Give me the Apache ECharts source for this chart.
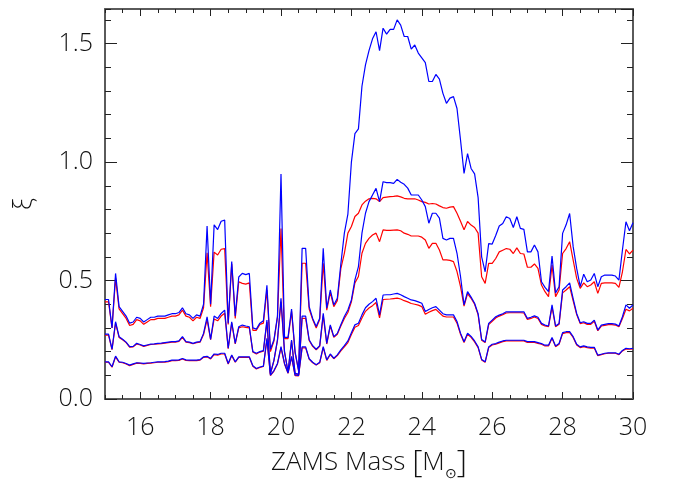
<!DOCTYPE html>
<html>
<head>
<meta charset="utf-8">
<title>xi vs ZAMS mass</title>
<script src="https://cdn.jsdelivr.net/npm/echarts@6/dist/echarts.min.js"></script>
<style>
  html, body { margin: 0; padding: 0; background: #fff; }
  #chart { width: 678px; height: 481px; }
</style>
</head>
<body>
<div id="chart"></div>
<script>
// ZAMS masses 15.0 ... 30.0 in steps of 0.1
const mass = Array.from({ length: 151 }, (_, i) => Math.round(150 + i) / 10);

// upper pair
const blue1 = [
  0.42, 0.42, 0.30, 0.53, 0.39, 0.37, 0.35, 0.32, 0.325, 0.345,
  0.34, 0.325, 0.335, 0.345, 0.345, 0.35, 0.35, 0.35, 0.355, 0.36,
  0.36, 0.365, 0.385, 0.36, 0.355, 0.34, 0.355, 0.35, 0.40, 0.73,
  0.40, 0.735, 0.715, 0.75, 0.755, 0.32, 0.58, 0.35, 0.515, 0.53,
  0.525, 0.53, 0.30, 0.295, 0.32, 0.33, 0.48, 0.21, 0.25, 0.35,
  0.95, 0.26, 0.26, 0.38, 0.20, 0.12, 0.636, 0.636, 0.39, 0.34,
  0.306, 0.341, 0.636, 0.383, 0.46, 0.397, 0.425, 0.57, 0.70, 0.78,
  1.0, 1.12, 1.14, 1.32, 1.41, 1.47, 1.52, 1.55, 1.47, 1.565,
  1.54, 1.56, 1.56, 1.60, 1.578, 1.53, 1.53, 1.477, 1.494, 1.46,
  1.44, 1.42, 1.34, 1.34, 1.37, 1.35, 1.29, 1.248, 1.27, 1.276,
  1.226, 1.093, 0.952, 1.036, 0.973, 0.95, 0.85, 0.60, 0.537, 0.656,
  0.654, 0.69, 0.73, 0.741, 0.769, 0.762, 0.724, 0.769, 0.72, 0.716,
  0.621, 0.621, 0.65, 0.621, 0.495, 0.471, 0.453, 0.603, 0.448, 0.474,
  0.699, 0.735, 0.783, 0.643, 0.551, 0.474, 0.527, 0.495, 0.502, 0.530,
  0.474, 0.516, 0.523, 0.523, 0.523, 0.519, 0.502, 0.629, 0.748, 0.71,
  0.744
];
const red1 = [
  0.41, 0.41, 0.30, 0.51, 0.38, 0.36, 0.34, 0.31, 0.315, 0.335,
  0.33, 0.315, 0.325, 0.335, 0.335, 0.34, 0.34, 0.34, 0.345, 0.35,
  0.35, 0.355, 0.375, 0.35, 0.345, 0.33, 0.345, 0.34, 0.385, 0.617,
  0.39, 0.62, 0.608, 0.632, 0.635, 0.315, 0.57, 0.34, 0.495, 0.488,
  0.485, 0.49, 0.29, 0.29, 0.315, 0.32, 0.46, 0.20, 0.245, 0.345,
  0.72, 0.255, 0.255, 0.37, 0.195, 0.12, 0.573, 0.573, 0.38, 0.335,
  0.30, 0.335, 0.573, 0.375, 0.45, 0.39, 0.415, 0.55, 0.615, 0.70,
  0.728, 0.77, 0.784, 0.819, 0.835, 0.845, 0.847, 0.845, 0.833, 0.85,
  0.852, 0.854, 0.855, 0.857, 0.853, 0.847, 0.845, 0.845, 0.845, 0.84,
  0.833, 0.83, 0.823, 0.825, 0.823, 0.815, 0.808, 0.805, 0.81, 0.812,
  0.784, 0.75, 0.714, 0.749, 0.734, 0.724, 0.70, 0.516, 0.488, 0.572,
  0.572, 0.593, 0.621, 0.628, 0.635, 0.632, 0.614, 0.638, 0.614, 0.612,
  0.556, 0.556, 0.57, 0.551, 0.481, 0.453, 0.432, 0.565, 0.432, 0.46,
  0.614, 0.635, 0.664, 0.586, 0.509, 0.467, 0.49, 0.474, 0.481, 0.495,
  0.446, 0.488, 0.49, 0.49, 0.49, 0.488, 0.471, 0.537, 0.631, 0.612,
  0.628
];

// middle pair
const blue2 = [
  0.274, 0.274, 0.21, 0.326, 0.263, 0.252, 0.24, 0.221, 0.222, 0.235,
  0.23, 0.224, 0.228, 0.232, 0.233, 0.235, 0.236, 0.238, 0.24, 0.242,
  0.242, 0.245, 0.263, 0.242, 0.24, 0.235, 0.24, 0.242, 0.277, 0.347,
  0.252, 0.35, 0.34, 0.361, 0.375, 0.214, 0.326, 0.235, 0.305, 0.312,
  0.308, 0.305, 0.20, 0.193, 0.20, 0.204, 0.333, 0.108, 0.164, 0.25,
  0.425, 0.20, 0.115, 0.249, 0.108, 0.105, 0.35, 0.35, 0.25, 0.225,
  0.21, 0.225, 0.362, 0.235, 0.313, 0.263, 0.277, 0.313, 0.348, 0.376,
  0.418, 0.503, 0.559, 0.70, 0.784, 0.833, 0.861, 0.889, 0.833, 0.917,
  0.913, 0.913, 0.91, 0.927, 0.915, 0.906, 0.89, 0.861, 0.861, 0.861,
  0.84, 0.812, 0.742, 0.784, 0.784, 0.763, 0.678, 0.671, 0.678, 0.678,
  0.615, 0.517, 0.397, 0.453, 0.43, 0.404, 0.36, 0.251, 0.241, 0.319,
  0.333, 0.347, 0.354, 0.36, 0.368, 0.368, 0.368, 0.368, 0.368, 0.368,
  0.34, 0.345, 0.351, 0.345, 0.319, 0.312, 0.308, 0.397, 0.308, 0.319,
  0.46, 0.474, 0.49, 0.424, 0.361, 0.322, 0.326, 0.319, 0.319, 0.333,
  0.291, 0.312, 0.315, 0.318, 0.318, 0.316, 0.308, 0.347, 0.397, 0.383,
  0.397
];
const red2 = [
  0.27, 0.27, 0.208, 0.32, 0.26, 0.25, 0.238, 0.219, 0.22, 0.232,
  0.228, 0.222, 0.226, 0.23, 0.231, 0.233, 0.234, 0.236, 0.238, 0.24,
  0.24, 0.243, 0.26, 0.24, 0.238, 0.233, 0.238, 0.24, 0.272, 0.335,
  0.25, 0.338, 0.33, 0.35, 0.362, 0.212, 0.32, 0.233, 0.30, 0.305,
  0.302, 0.30, 0.198, 0.19, 0.198, 0.202, 0.325, 0.106, 0.162, 0.247,
  0.41, 0.198, 0.113, 0.245, 0.106, 0.103, 0.34, 0.34, 0.247, 0.222,
  0.208, 0.222, 0.352, 0.232, 0.308, 0.26, 0.273, 0.308, 0.34, 0.365,
  0.41, 0.49, 0.517, 0.615, 0.657, 0.678, 0.692, 0.70, 0.664, 0.714,
  0.712, 0.712, 0.713, 0.714, 0.71, 0.70, 0.695, 0.688, 0.688, 0.688,
  0.683, 0.671, 0.636, 0.657, 0.657, 0.629, 0.587, 0.587, 0.585, 0.58,
  0.538, 0.474, 0.392, 0.445, 0.425, 0.40, 0.355, 0.248, 0.238, 0.314,
  0.328, 0.342, 0.35, 0.356, 0.363, 0.364, 0.364, 0.364, 0.364, 0.363,
  0.336, 0.34, 0.346, 0.34, 0.315, 0.308, 0.305, 0.388, 0.305, 0.315,
  0.448, 0.46, 0.474, 0.414, 0.356, 0.318, 0.322, 0.315, 0.315, 0.328,
  0.288, 0.308, 0.311, 0.314, 0.314, 0.312, 0.305, 0.34, 0.379, 0.372,
  0.383
];

// lower pair
const blue3 = [
  0.157, 0.157, 0.136, 0.181, 0.157, 0.155, 0.15, 0.143, 0.148, 0.153,
  0.152, 0.15, 0.152, 0.153, 0.155, 0.157, 0.157, 0.158, 0.16, 0.164,
  0.164, 0.165, 0.171, 0.165, 0.164, 0.164, 0.164, 0.166, 0.178, 0.18,
  0.171, 0.19, 0.188, 0.193, 0.193, 0.15, 0.186, 0.157, 0.178, 0.178,
  0.178, 0.178, 0.14, 0.129, 0.135, 0.139, 0.256, 0.101, 0.12, 0.15,
  0.221, 0.15, 0.11, 0.18, 0.101, 0.10, 0.22, 0.22, 0.17, 0.155,
  0.145, 0.155, 0.221, 0.165, 0.19, 0.172, 0.186, 0.207, 0.225, 0.245,
  0.28, 0.313, 0.32, 0.355, 0.385, 0.40, 0.411, 0.425, 0.355, 0.439,
  0.44, 0.44, 0.443, 0.446, 0.44, 0.432, 0.425, 0.418, 0.415, 0.41,
  0.404, 0.369, 0.378, 0.385, 0.39, 0.375, 0.36, 0.355, 0.355, 0.355,
  0.327, 0.278, 0.242, 0.278, 0.264, 0.245, 0.22, 0.167, 0.157, 0.22,
  0.231, 0.234, 0.24, 0.245, 0.248, 0.248, 0.248, 0.248, 0.248, 0.248,
  0.242, 0.242, 0.242, 0.238, 0.234, 0.227, 0.227, 0.26, 0.224, 0.234,
  0.28, 0.284, 0.284, 0.263, 0.231, 0.22, 0.224, 0.22, 0.218, 0.218,
  0.185, 0.189, 0.193, 0.195, 0.195, 0.195, 0.189, 0.205, 0.214, 0.212,
  0.214
];
const red3 = [
  0.155, 0.155, 0.134, 0.178, 0.155, 0.153, 0.148, 0.141, 0.146, 0.151,
  0.15, 0.148, 0.15, 0.151, 0.153, 0.155, 0.155, 0.156, 0.158, 0.162,
  0.162, 0.163, 0.169, 0.163, 0.162, 0.162, 0.162, 0.164, 0.176, 0.178,
  0.169, 0.187, 0.185, 0.19, 0.19, 0.148, 0.183, 0.155, 0.176, 0.176,
  0.176, 0.176, 0.138, 0.127, 0.133, 0.137, 0.25, 0.099, 0.118, 0.148,
  0.216, 0.148, 0.108, 0.177, 0.099, 0.098, 0.216, 0.216, 0.168, 0.153,
  0.143, 0.153, 0.217, 0.163, 0.187, 0.17, 0.183, 0.203, 0.22, 0.238,
  0.272, 0.303, 0.31, 0.342, 0.37, 0.384, 0.394, 0.407, 0.342, 0.42,
  0.421, 0.422, 0.424, 0.426, 0.422, 0.415, 0.41, 0.403, 0.40, 0.396,
  0.39, 0.358, 0.366, 0.373, 0.378, 0.364, 0.35, 0.346, 0.346, 0.346,
  0.32, 0.273, 0.238, 0.273, 0.26, 0.241, 0.217, 0.165, 0.155, 0.217,
  0.228, 0.231, 0.237, 0.242, 0.245, 0.245, 0.245, 0.245, 0.245, 0.245,
  0.239, 0.239, 0.239, 0.235, 0.231, 0.224, 0.224, 0.256, 0.221, 0.231,
  0.276, 0.28, 0.28, 0.26, 0.228, 0.217, 0.221, 0.217, 0.215, 0.215,
  0.183, 0.187, 0.191, 0.193, 0.193, 0.193, 0.187, 0.203, 0.211, 0.21,
  0.211
];

const xLabels = [16, 18, 20, 22, 24, 26, 28, 30];
const X_MIN = 15, X_MAX = 30;
const Y_MIN = 0, Y_MAX = 1.646;

// thin sans to look like the IDL plot font
const FONT = "'Open Sans', 'Liberation Sans', sans-serif";
const FONT_WEIGHT = 300;
const textColor = '#111';
const lineColor = '#5a5a5a';
const tickColor = '#222';

const chart = echarts.init(document.getElementById('chart'), null, { renderer: 'canvas' });

// minor x ticks every 0.5, long ticks + labels at even masses
const xMinor = (pos) => ({
  type: 'value', position: pos, min: X_MIN, max: X_MAX, interval: 0.5,
  axisLine: { show: true, onZero: false, lineStyle: { color: lineColor, width: 2 } },
  axisTick: { inside: true, length: 4, lineStyle: { color: tickColor, width: 1 } },
  axisLabel: { show: false }, splitLine: { show: false }
});
const xMajor = (pos, labels) => ({
  type: 'value', position: pos, min: X_MIN, max: X_MAX,
  axisLine: { show: false, onZero: false },
  axisTick: { inside: true, length: 7, customValues: xLabels, lineStyle: { color: tickColor, width: 1 } },
  axisLabel: {
    show: labels, customValues: xLabels, margin: 16,
    fontFamily: FONT, fontWeight: FONT_WEIGHT, fontSize: 25, color: textColor
  },
  splitLine: { show: false }
});
const yMinor = (pos) => ({
  type: 'value', position: pos, min: Y_MIN, max: Y_MAX, interval: 0.1,
  axisLine: { show: true, onZero: false, lineStyle: { color: lineColor, width: 2 } },
  axisTick: { inside: true, length: 6, lineStyle: { color: tickColor, width: 1 } },
  axisLabel: { show: false }, splitLine: { show: false }
});
const yMajor = (pos, labels) => ({
  type: 'value', position: pos, min: Y_MIN, max: Y_MAX, interval: 0.5,
  axisLine: { show: false, onZero: false },
  axisTick: { inside: true, length: 12, lineStyle: { color: tickColor, width: 1 } },
  axisLabel: {
    show: labels, showMaxLabel: false, margin: 12,
    fontFamily: FONT, fontWeight: FONT_WEIGHT, fontSize: 25, color: textColor,
    formatter: (v) => v.toFixed(1)
  },
  splitLine: { show: false }
});

const bottomMajor = xMajor('bottom', true);
bottomMajor.name = 'ZAMS Mass {b|[}M{s|⊙}{b|]}';
bottomMajor.nameLocation = 'middle';
bottomMajor.nameGap = 46;
bottomMajor.nameTextStyle = {
  fontFamily: FONT, fontWeight: FONT_WEIGHT, fontSize: 26, color: textColor,
  rich: {
    b: { fontFamily: FONT, fontWeight: FONT_WEIGHT, fontSize: 32, color: textColor },
    s: { fontFamily: 'DejaVu Sans', fontSize: 14, color: textColor, padding: [22, 0, 0, 0] }
  }
};

const leftMajor = yMajor('left', true);
leftMajor.name = 'ξ';
leftMajor.nameLocation = 'middle';
leftMajor.nameRotate = 90;
leftMajor.nameGap = 67;
leftMajor.nameTextStyle = { fontFamily: FONT, fontWeight: FONT_WEIGHT, fontSize: 26, color: textColor };

const mk = (name, values, color) => ({
  name,
  type: 'line',
  xAxisIndex: 0,
  yAxisIndex: 0,
  data: mass.map((m, i) => [m, values[i]]),
  showSymbol: false,
  symbol: 'none',
  clip: true,
  lineStyle: { color, width: 1.2 },
  emphasis: { disabled: true }
});

chart.setOption({
  animation: false,
  backgroundColor: '#fff',
  // fixed plot box; v6 would otherwise shrink the grid to fit the axis names
  grid: { left: 105, right: 45, top: 9, bottom: 82, containLabel: false, outerBoundsMode: 'none' },
  xAxis: [xMinor('bottom'), bottomMajor, xMinor('top'), xMajor('top', false)],
  yAxis: [yMinor('left'), leftMajor, yMinor('right'), yMajor('right', false)],
  series: [
    mk('red 1', red1, '#ff0000'),
    mk('red 2', red2, '#ff0000'),
    mk('red 3', red3, '#ff0000'),
    mk('blue 1', blue1, '#0000ff'),
    mk('blue 2', blue2, '#0000ff'),
    mk('blue 3', blue3, '#0000ff')
  ]
});

window.addEventListener('resize', () => chart.resize());
</script>
</body>
</html>
